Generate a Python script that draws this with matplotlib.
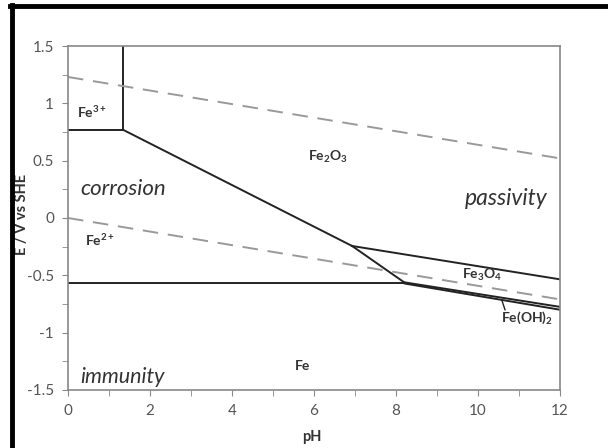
import matplotlib
matplotlib.use("Agg")
import matplotlib.pyplot as plt
from matplotlib.lines import Line2D

# Pourbaix diagram of iron
fe3_fe2_ph = [0, 1.34]
fe3_fe2_e = [0.77, 0.77]
fe3_fe2o3_ph = [1.34, 1.34]
fe3_fe2o3_e = [0.77, 1.5]
fe2_fe2o3_ph = [1.34, 6.93]
fe2_fe2o3_e = [0.77, -0.244]
fe2_fe3o4_ph = [6.93, 8.22]
fe2_fe3o4_e = [-0.244, -0.566]
fe2o3_fe3o4_ph = [6.93, 12]
fe2o3_fe3o4_e = [-0.244, -0.535]
fe_fe2_ph = [0, 8.22]
fe_fe2_e = [-0.57, -0.57]
fe3o4_feoh2_ph = [8.22, 12]
fe3o4_feoh2_e = [-0.562, -0.775]
feoh2_fe_ph = [8.22, 12]
feoh2_fe_e = [-0.572, -0.80]
o2_ph = [0, 12]
o2_e = [1.23, 0.52]
h2_ph = [0, 12]
h2_e = [0.0, -0.71]

plt.rcParams['font.family'] = ['Lato', 'DejaVu Sans']
plt.rcParams['mathtext.default'] = 'regular'

fig = plt.figure(figsize=(6.08, 4.48), dpi=100)
ax = fig.add_axes([0.1118, 0.1295, 0.8092, 0.7678])

solid = dict(color="#222222", lw=1.4)
ax.plot(fe3_fe2_ph, fe3_fe2_e, **solid)
ax.plot(fe3_fe2o3_ph, fe3_fe2o3_e, **solid)
ax.plot(fe2_fe2o3_ph, fe2_fe2o3_e, **solid)
ax.plot(fe2_fe3o4_ph, fe2_fe3o4_e, **solid)
ax.plot(fe2o3_fe3o4_ph, fe2o3_fe3o4_e, **solid)
ax.plot(fe_fe2_ph, fe_fe2_e, **solid)
ax.plot(fe3o4_feoh2_ph, fe3o4_feoh2_e, **solid)
ax.plot(feoh2_fe_ph, feoh2_fe_e, **solid)

dashed = dict(color="#999999", lw=1.4, dashes=(8, 5))
ax.plot(o2_ph, o2_e, **dashed)
ax.plot(h2_ph, h2_e, **dashed)

# pointer for Fe(OH)2
ax.plot([10.58, 10.66], [-0.715, -0.80], color="#222222", lw=1)

ax.set_xlim(0, 12)
ax.set_ylim(-1.5, 1.5)
ax.set_xticks(range(0, 13, 2))
ax.set_xticks(range(0, 13), minor=True)
ax.set_yticks([-1.5, -1, -0.5, 0, 0.5, 1, 1.5])
ax.set_yticks([-1.25, -0.75, -0.25, 0.25, 0.75, 1.25], minor=True)
ax.set_yticklabels(["-1.5", "-1", "-0.5", "0", "0.5", "1", "1.5"])
for s in ax.spines.values():
    s.set_color("#888888")
    s.set_linewidth(1.2)
ax.tick_params(which="both", direction="out", length=4, color="#888888",
               labelsize=11, labelcolor="#555555", pad=6)

ax.set_xlabel("pH", fontsize=10.5, fontweight="bold", color="#333333")
ax.set_ylabel("E / V vs SHE", fontsize=10.5, fontweight="bold", color="#333333")
ax.xaxis.set_label_coords(0.496, -0.117)
ax.yaxis.set_label_coords(-0.094, 0.509)
ax.yaxis.label.set_va("center")
ax.xaxis.label.set_va("center")
ax.xaxis.set_label_coords(0.496, -0.137)

lab = dict(fontsize=10, fontweight="bold", color="#333333", ha="center", va="center")
ax.text(0.59, 0.92, r"Fe$^{3+}$", **lab)
ax.text(6.34, 0.53, r"Fe$_2$O$_3$", **lab)
ax.text(0.78, -0.19, r"Fe$^{2+}$", **lab)
ax.text(10.1, -0.50, r"Fe$_3$O$_4$", **lab)
ax.text(11.2, -0.87, r"Fe(OH)$_2$", **lab)
ax.text(5.73, -1.29, "Fe", **lab)

ital = dict(style="italic", color="#333333", va="center")
ax.text(0.3, 0.25, "corrosion", ha="left", fontsize=16, **ital)
ax.text(11.7, 0.17, "passivity", ha="right", fontsize=16.5, **ital)
ax.text(0.3, -1.39, "immunity", ha="left", fontsize=15.5, **ital)

# black frame from the screenshot
fig.add_artist(Line2D([0.0197, 0.0197], [0, 0.988], color="black", lw=3.5))
fig.add_artist(Line2D([0.0165, 1.0], [0.986, 0.986], color="black", lw=3.5))

fig.savefig("out.png", dpi=100)
